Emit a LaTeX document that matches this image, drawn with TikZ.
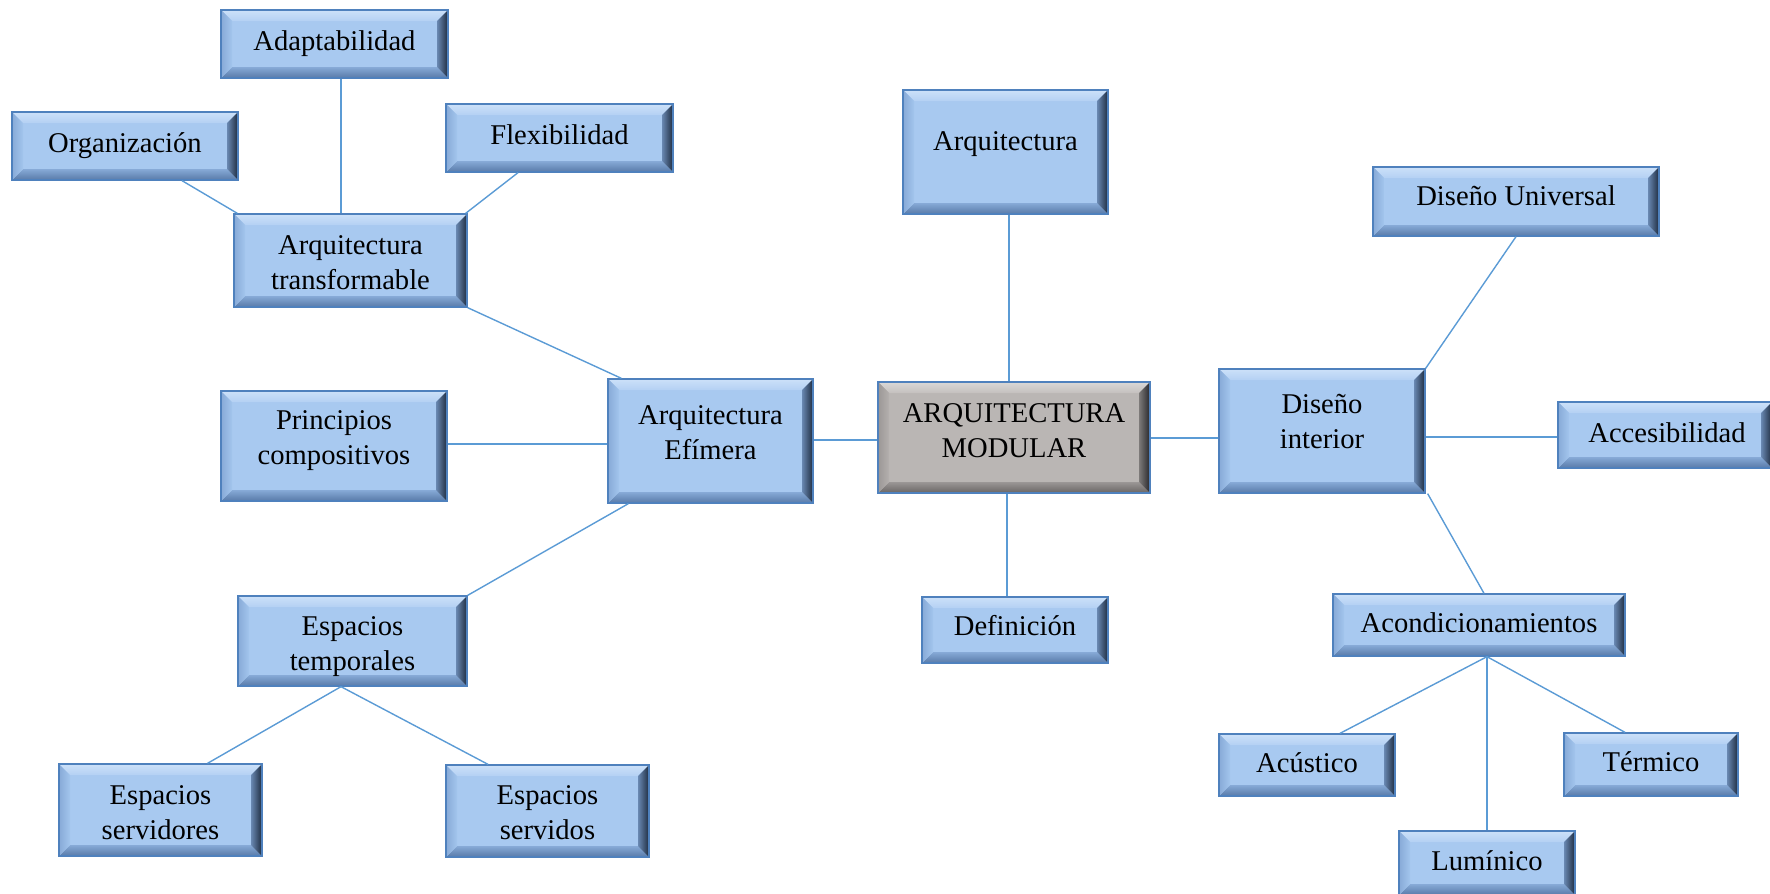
\documentclass[tikz,border=0pt]{standalone}
\usepackage{fontspec}
\setmainfont{Liberation Serif}
\definecolor{linec}{RGB}{91,155,213}
\definecolor{bordc}{RGB}{79,129,189}
\definecolor{bbase}{RGB}{168,201,240}
\definecolor{btop1}{RGB}{204,225,249}
\definecolor{btop2}{RGB}{180,208,243}
\definecolor{bleft1}{RGB}{135,170,215}
\definecolor{bleft2}{RGB}{163,197,237}
\definecolor{bbot1}{RGB}{135,170,215}
\definecolor{bbot2}{RGB}{88,122,168}
\definecolor{bright1}{RGB}{105,136,178}
\definecolor{bright2}{RGB}{30,44,64}
\definecolor{gbase}{RGB}{186,182,180}
\definecolor{gtop1}{RGB}{218,216,215}
\definecolor{gtop2}{RGB}{196,192,190}
\definecolor{gleft1}{RGB}{155,151,150}
\definecolor{gleft2}{RGB}{180,176,174}
\definecolor{gbot1}{RGB}{155,151,150}
\definecolor{gbot2}{RGB}{105,101,100}
\definecolor{gright1}{RGB}{125,122,121}
\definecolor{gright2}{RGB}{38,38,42}
\newcommand\bevelpic[1]{%
  \path (path picture bounding box.north west) coordinate (pNW)
        (path picture bounding box.north east) coordinate (pNE)
        (path picture bounding box.south west) coordinate (pSW)
        (path picture bounding box.south east) coordinate (pSE);
  \shade[top color=#1top1, bottom color=#1top2]
    (pNW) -- (pNE) -- ([xshift=-11pt,yshift=-11pt]pNE) -- ([xshift=11pt,yshift=-11pt]pNW) -- cycle;
  \shade[top color=#1bot1, bottom color=#1bot2]
    (pSW) -- (pSE) -- ([xshift=-11pt,yshift=11pt]pSE) -- ([xshift=11pt,yshift=11pt]pSW) -- cycle;
  \shade[left color=#1left1, right color=#1left2]
    (pNW) -- ([xshift=11pt,yshift=-11pt]pNW) -- ([xshift=11pt,yshift=11pt]pSW) -- (pSW) -- cycle;
  \shade[left color=#1right1, right color=#1right2]
    (pNE) -- ([xshift=-11pt,yshift=-11pt]pNE) -- ([xshift=-11pt,yshift=11pt]pSE) -- (pSE) -- cycle;
}
\tikzset{
  box/.style={draw=bordc, line width=1.3pt, fill=bbase, inner sep=0pt,
    path picture={\bevelpic{b}}},
  graybox/.style={draw=bordc, line width=1.3pt, fill=gbase, inner sep=0pt,
    path picture={\bevelpic{g}}},
  txt/.style={align=center, inner sep=0pt, font=\fontsize{28.6}{35}\selectfont},
  conn/.style={draw=linec, line width=1.4pt},
}
\newcommand\bx[8][box]{%
  \node[#1, minimum width=#5pt, minimum height=#6pt] (#2) at (#3,#4) {};
  \node[txt] (#2-t) at (#3,#7) {#8};
}
\begin{document}
\begin{tikzpicture}[x=1pt,y=-1pt]
\useasboundingbox (0,0) rectangle (1770,894);
% boxes
\bx{adapt}{334.5}{44}{227}{68}{43.5}{Adaptabilidad}
\bx{organ}{125}{146}{226}{68}{145.5}{Organización}
\bx{flex}{559.5}{138}{227}{68}{135}{Flexibilidad}
\bx{transf}{350.5}{260.5}{233}{93}{263}{Arquitectura\\transformable}
\bx{princ}{334}{446}{226}{110}{441}{Principios\\compositivos}
\bx{efim}{710.5}{441}{205}{124}{433}{Arquitectura\\Efímera}
\bx{esptemp}{352.5}{641}{229}{90}{647}{Espacios\\temporales}
\bx{espserv}{160.5}{810}{203}{92}{813}{Espacios\\servidores}
\bx{espservidos}{547.5}{811}{203}{92}{813}{Espacios\\servidos}
\bx[graybox]{modular}{1014}{437.5}{272}{111}{430.5}{ARQUITECTURA\\MODULAR}
\bx{arq}{1005.5}{152}{205}{124}{144}{Arquitectura}
\bx{def}{1015}{630}{186}{66}{626}{Definición}
\bx{disint}{1322}{431}{206}{124}{421.5}{Diseño\\interior}
\bx{disuniv}{1516}{201.5}{286}{69}{196}{Diseño Universal}
\node[box, minimum width=214pt, minimum height=66pt] (acces) at (1665,435) {};
\node[txt] (acces-t) at (1667,433) {Accesibilidad};
\bx{acond}{1479}{625}{292}{62}{623}{Acondicionamientos}
\bx{acust}{1307}{765}{176}{62}{762.5}{Acústico}
\bx{term}{1651}{764.5}{174}{63}{762}{Térmico}
\bx{lumin}{1487}{863}{176}{64}{861}{Lumínico}
% connectors
\draw[conn] ([xshift=6.5pt]adapt.south) -- ([xshift=6.5pt]adapt.south |- transf.north);
\draw[conn] ([xshift=57pt]organ.south) -- ([xshift=4pt]transf.north west);
\draw[conn] ([xshift=-41.5pt]flex.south) -- ([xshift=-2pt]transf.north east);
\draw[conn] (transf.south east) -- ([xshift=14pt]efim.north west);
\draw[conn] ([yshift=2pt]princ.east) -- ([yshift=2pt]princ.east -| efim.west);
\draw[conn] ([xshift=21pt]efim.south west) -- (esptemp.north east);
\draw[conn] ([xshift=-11.5pt]esptemp.south) -- ([xshift=47pt]espserv.north);
\draw[conn] ([xshift=-11.5pt]esptemp.south) -- ([xshift=-59.5pt]espservidos.north);
\draw[conn] ([yshift=1pt]efim.east) -- ([yshift=1pt]efim.east -| modular.west);
\draw[conn] ([xshift=3.5pt]arq.south) -- ([xshift=3.5pt]arq.south |- modular.north);
\draw[conn] ([xshift=-7pt]modular.south) -- ([xshift=-7pt]modular.south |- def.north);
\draw[conn] ([yshift=-0.5pt]modular.east) -- ([yshift=-0.5pt]modular.east -| disint.west);
\draw[conn] (disint.north east) -- (disuniv.south);
\draw[conn] ([yshift=-6pt]disint.east) -- ([yshift=-6pt]disint.east -| acces.west);
\draw[conn] ([xshift=2pt]disint.south east) -- ([xshift=5pt]acond.north);
\draw[conn] ([xshift=8pt]acond.south) -- ([xshift=33pt]acust.north);
\draw[conn] ([xshift=8pt]acond.south) -- ([xshift=-26pt]term.north);
\draw[conn] ([xshift=8pt]acond.south) -- ([xshift=8pt]acond.south |- lumin.north);
\end{tikzpicture}
\end{document}
